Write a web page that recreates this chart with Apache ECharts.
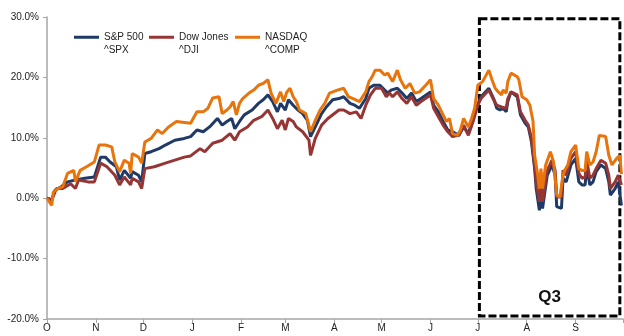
<!DOCTYPE html>
<html>
<head>
<meta charset="utf-8">
<script src="https://cdn.jsdelivr.net/npm/echarts@6/dist/echarts.min.js"></script>
<style>
html,body{margin:0;padding:0;background:#fff;}
#chart{width:624px;height:336px;}
</style>
</head>
<body>
<div id="chart"></div>
<script>
// x values: days since 1 Oct (start of period); y values: % change
const monthStartDays = [0,31,61,92,123,151,182,212,243,273,304,335];
const tickLabels = ['O','N','D','J','F','M','A','M','J','J','A','S'];
const yTicks = [-20,-10,0,10,20,30];

const seriesNames = ['S&P 500','Dow Jones','NASDAQ'];
const tickers = ['^SPX','^DJI','^COMP'];

const spxDays = [0,3,5,9,13,18,24,30,34,37,40,44,46,49,53,54,58,60,62,66,71,75,81,87,91,95,99,103,108,111,114,117,119,122,125,130,134,137,140,143,146,148,151,153,156,159,162,165,167,170,174,177,181,185,188,192,195,198,202,204,207,211,214,216,218,222,225,228,231,234,237,243,245,248,251,254,257,261,264,267,269,272,275,276,280,283,285,287,289,291,292,294,298,300,303,305,307,309,310,312,313,314,317,320,322,323,326,327,329,332,335,337,339,341,342,344,346,348,351,354,356,357,360,362,364];
const spxVals = [0.0,-0.3,1.3,1.9,2.7,3.0,3.3,3.5,6.8,6.8,6.0,5.2,3.0,4.6,3.3,4.4,3.8,2.7,7.4,7.7,8.2,8.8,9.6,9.9,10.2,11.3,11.0,11.8,13.2,12.1,12.7,13.2,11.5,12.7,13.8,14.6,15.7,16.3,17.1,16.0,14.3,15.7,14.6,16.3,15.4,14.6,14.0,12.9,10.2,11.8,14.0,15.1,16.3,16.5,16.8,15.7,15.4,14.9,16.5,18.2,18.7,18.7,17.9,17.4,17.9,18.2,17.4,16.5,17.4,16.0,16.5,17.6,15.4,14.3,12.7,11.3,11.0,10.4,11.8,10.7,12.4,14.9,16.8,16.5,18.2,16.5,14.9,14.6,14.9,14.3,16.0,17.6,16.8,13.8,12.4,11.8,9.3,4.9,1.6,-2.0,1.0,-1.7,3.8,5.5,3.8,-1.4,-1.7,3.3,2.7,5.5,6.6,2.7,2.2,2.2,5.2,2.2,2.7,4.4,5.5,4.9,2.7,0.5,1.6,2.7,-1.2];

const djiDays = [0,3,6,10,15,18,20,26,30,34,38,43,46,49,53,54,58,60,62,68,75,81,87,91,97,100,105,111,116,119,122,127,131,136,140,143,146,149,151,153,156,158,162,166,167,170,174,178,185,188,192,196,199,202,205,208,212,215,217,219,222,225,228,231,234,237,243,245,248,251,254,257,261,264,267,270,273,275,280,283,285,288,291,292,294,298,300,303,305,307,309,310,312,313,314,317,320,322,323,326,327,329,332,335,337,339,341,342,344,346,348,351,354,356,357,360,362,364];
const djiVals = [0.0,-0.3,1.6,1.6,2.4,1.6,3.0,2.7,2.7,5.8,5.2,3.8,2.2,3.5,2.2,3.3,2.7,1.6,4.9,5.2,5.8,6.3,6.8,7.0,8.2,7.7,9.1,9.6,10.7,9.6,11.0,11.8,12.9,13.5,14.6,13.2,11.5,12.9,11.3,13.2,12.7,11.8,11.0,9.6,7.1,9.9,12.1,13.2,14.6,14.6,14.0,14.3,13.2,15.4,17.1,18.2,18.2,16.8,17.4,16.8,17.6,16.5,15.7,16.8,15.4,16.0,17.1,14.9,13.5,12.1,11.0,10.2,10.4,12.1,10.4,12.7,15.4,16.5,17.9,16.3,15.4,15.1,14.9,16.5,17.6,17.1,14.3,12.9,12.1,9.9,5.5,2.7,-0.6,2.2,-0.6,4.6,6.3,4.6,0.2,0.2,4.6,3.8,6.6,7.7,4.1,3.3,3.5,6.3,3.3,3.8,4.9,6.3,5.8,3.8,1.6,2.7,3.8,2.2];

const ixicDays = [0,3,4,7,10,13,17,18,21,25,30,33,37,41,43,46,49,52,53,54,58,60,62,66,70,73,77,82,91,95,99,102,105,109,111,114,116,118,120,122,124,128,131,134,137,140,142,145,148,150,152,154,156,158,160,164,167,170,173,176,179,184,188,191,194,198,202,204,206,208,211,214,216,219,222,224,227,230,233,236,240,243,245,248,251,253,255,257,260,262,264,267,269,271,273,276,280,282,284,286,288,289,291,292,294,298,299,301,304,306,308,309,311,312,313,314,316,319,321,323,325,327,328,330,332,335,337,339,341,342,344,346,348,350,354,356,358,361,363,364];
const ixicVals = [0.0,-1.2,1.0,1.6,1.9,4.1,4.6,2.7,4.6,5.2,6.0,8.8,8.8,8.5,6.0,4.4,6.3,5.8,4.1,7.4,6.8,5.8,9.3,9.9,11.3,10.7,11.8,12.7,12.4,14.3,14.3,14.9,16.6,16.8,14.0,14.6,15.1,16.0,13.8,15.7,16.5,17.4,17.9,18.7,19.0,19.6,17.4,15.7,17.6,16.0,17.6,18.2,16.8,16.0,14.6,14.0,11.0,12.9,14.6,15.7,17.4,17.9,18.2,16.8,16.5,16.0,17.6,19.3,20.1,21.2,21.2,20.4,20.7,19.3,21.2,19.6,18.2,19.0,17.4,17.6,18.7,19.6,16.5,15.4,13.8,12.7,13.2,10.7,10.4,11.3,13.2,11.8,13.2,14.9,18.7,19.3,21.2,19.6,18.2,17.6,17.1,17.9,17.4,19.3,20.7,20.1,19.6,16.8,16.3,15.4,12.7,7.1,3.8,1.6,4.9,1.6,5.5,7.7,6.0,0.5,0.2,3.8,4.6,5.5,7.7,8.8,4.9,4.6,4.6,7.7,5.5,6.0,7.7,10.4,10.2,7.1,5.5,6.6,7.1,4.0];

// Q3 annotation box (data units)
const q3Label = 'Q3';
const q3Start = 274, q3End = 363, q3Top = 29.7, q3Bottom = -19.5;

const colors = ['#1f3a66', '#963634', '#e8740c'];
const FONT = '"Liberation Sans", Arial, sans-serif';

function pairs(days, vals){ return days.map((d,i)=>[d, vals[i]]); }

const legendIcon = 'path://M0,0L0.01,0Z M0,4.8H25V7.8H0Z M0,25L0.01,25Z';
const legendLefts = [74, 149, 235];

const chart = echarts.init(document.getElementById('chart'), null, {renderer:'canvas'});
chart.setOption({
  animation: false,
  backgroundColor: '#fff',
  color: colors,
  textStyle: {fontFamily: FONT},
  grid: {left: 47, right: 1, top: 17, bottom: 17, containLabel: false},
  legend: seriesNames.map((n, i) => ({
    data: [n],
    left: legendLefts[i],
    top: 31,
    itemWidth: 25,
    itemHeight: 25,
    icon: legendIcon,
    padding: 0,
    formatter: name => name + '\n' + tickers[i],
    textStyle: {fontSize: 10, color: '#222', lineHeight: 12.5, fontFamily: FONT}
  })),
  xAxis: {
    type: 'value',
    min: 0,
    max: 365,
    axisLine: {show: true, onZero: false, lineStyle: {color: '#a6a6a6', width: 1.5}},
    axisTick: {show: true, length: 4, customValues: monthStartDays.concat([365]), lineStyle: {color: '#a6a6a6'}},
    axisLabel: {
      customValues: monthStartDays,
      formatter: v => tickLabels[monthStartDays.indexOf(v)] || '',
      fontSize: 10, color: '#222', margin: 4, fontFamily: FONT
    },
    splitLine: {show: false}
  },
  yAxis: {
    type: 'value',
    min: -20,
    max: 30,
    interval: 10,
    axisLine: {show: true, lineStyle: {color: '#a6a6a6', width: 1.5}},
    axisTick: {show: true, length: 4, lineStyle: {color: '#a6a6a6'}},
    axisLabel: {formatter: v => v.toFixed(1) + '%', fontSize: 10, color: '#222', margin: 8, fontFamily: FONT},
    splitLine: {show: false}
  },
  series: [
    {name: seriesNames[0], type: 'line', data: pairs(spxDays, spxVals), showSymbol: false, symbol: 'none', lineStyle: {width: 3, color: colors[0]}, z: 2},
    {name: seriesNames[1], type: 'line', data: pairs(djiDays, djiVals), showSymbol: false, symbol: 'none', lineStyle: {width: 3, color: colors[1]}, z: 2},
    {name: seriesNames[2], type: 'line', data: pairs(ixicDays, ixicVals), showSymbol: false, symbol: 'none', lineStyle: {width: 3, color: colors[2]}, z: 2,
      markArea: {
        silent: true,
        itemStyle: {color: 'rgba(0,0,0,0)', borderColor: '#000', borderWidth: 3, borderType: [8, 3]},
        label: {show: true, position: 'insideBottom', distance: 12, formatter: q3Label, fontSize: 17, fontWeight: 'bold', color: '#111', fontFamily: FONT},
        data: [[{xAxis: q3Start, yAxis: q3Top}, {xAxis: q3End, yAxis: q3Bottom}]]
      }
    }
  ]
});
</script>
</body>
</html>
